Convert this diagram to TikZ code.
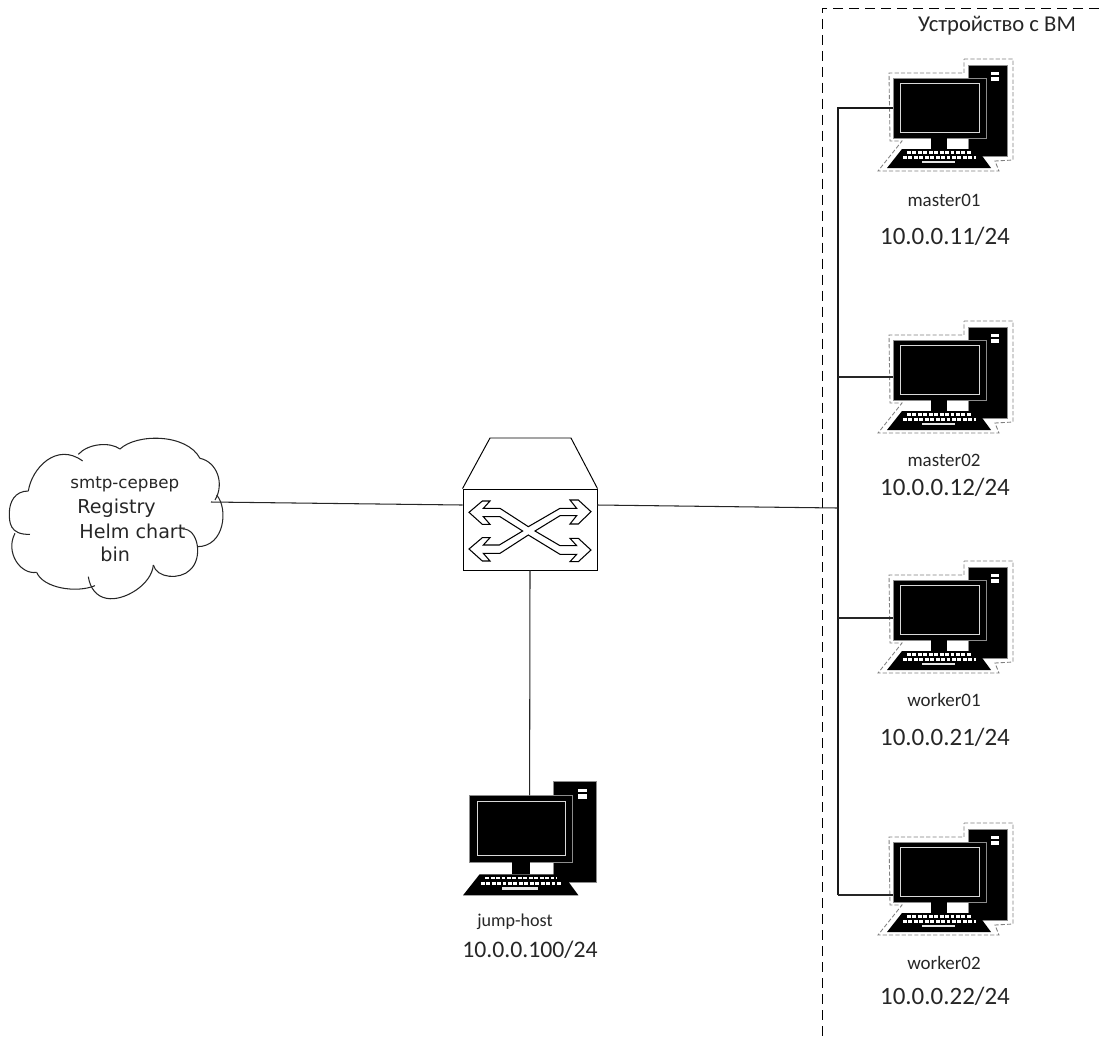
\documentclass[tikz,border=0pt]{standalone}
\usepackage{fontspec}
\setmainfont{Carlito}
\newfontfamily\cloudfont{DejaVu Sans}
\tikzset{
	every node/.style={inner sep=0pt, text=black!85},
	hostname/.style={font=\fontsize{10.8}{12}\selectfont},
	hostaddr/.style={font=\fontsize{14.2}{16}\selectfont},
	cloudtext/.style={font=\cloudfont\fontsize{10.9}{12}\selectfont, anchor=west},
	link/.style={line width=0.6pt, black!85},
	linkbold/.style={line width=1.2pt, black!90},
	pics/computer/.style={code={
		% tower
		\draw [fill=black, draw=black!45, line width=0.4pt] (81,0) rectangle (120,91);
		\fill [white] (104,7) rectangle (112,10);
		\fill [white] (104,12) rectangle (112,16);
		% monitor
		\draw [fill=black, draw=black!45, line width=0.5pt] (6,13) rectangle (99,73);
		\draw [white!85!black, line width=0.5pt] (13,18) rectangle (92,67);
		% stand
		\fill [black] (44,73) rectangle (60,84);
		% keyboard
		\fill [black] (15,84) -- (90,84) -- (104,103) -- (0,103) -- cycle;
		\draw [white, line width=1.4pt, dash pattern=on 2.2pt off 0.9pt] (20,87.5) -- (85,87.5);
		\draw [white, line width=1.4pt, dash pattern=on 2.2pt off 0.9pt] (16,92.5) -- (89,92.5);
		\fill [white!90!black] (35,95.5) rectangle (68,98);
		\coordinate (-port) at (6,43);
		\coordinate (-top) at (60,13);
	}},
	pics/vmborder/.style={code={
		\draw [black!50, line width=0.5pt, dash pattern=on 2.4pt off 1.2pt] (77,-6) -- (126,-6) -- (126,95) -- (108,96) -- (112,106) -- (-9,106) -- (15,76) -- (3,76) -- (2,8) -- (77,8) -- cycle;
	}},
}
\begin{document}
\begin{tikzpicture}[x=0.02cm, y=-0.02cm]
	\useasboundingbox (0,0) rectangle (1099,1039);

	% vm box
	\draw [line width=0.5pt, dash pattern=on 5.7pt off 3.4pt] (1099,8) -- (822,8) -- (822,1039);
	\node (vmtitle) at (997,26) {\fontsize{12.9}{14}\selectfont Устройство с ВМ};

	% hosts
	\pic (master01) at (887,65) {computer};
	\pic at (887,65) {vmborder};
	\pic (master02) at (887,327) {computer};
	\pic at (887,327) {vmborder};
	\pic (worker01) at (887,567) {computer};
	\pic at (887,567) {vmborder};
	\pic (worker02) at (887,829) {computer};
	\pic at (887,829) {vmborder};
	\pic [scale=1.11] (jumphost) at (463,781) {computer};

	\node [hostname] (master01name) at (944,200) {master01};
	\node [hostaddr] (master01addr) at (945,236) {10.0.0.11/24};
	\node [hostname] (master02name) at (944,460) {master02};
	\node [hostaddr] (master02addr) at (945,487) {10.0.0.12/24};
	\node [hostname] (worker01name) at (944,700) {worker01};
	\node [hostaddr] (worker01addr) at (945,737) {10.0.0.21/24};
	\node [hostname] (worker02name) at (944,963) {worker02};
	\node [hostaddr] (worker02addr) at (945,996) {10.0.0.22/24};
	\node [hostname, font=\fontsize{10.3}{12}\selectfont] (jumpname) at (515,922) {jump-host};
	\node [hostaddr, font=\fontsize{13.5}{16}\selectfont] (jumpaddr) at (530,950) {10.0.0.100/24};

	% switch
	\node [draw, line width=0.55pt, minimum width=2.68cm, minimum height=1.62cm] (switch) at (530,529.5) {};
	\draw [line width=0.55pt] (switch.north west) -- (490,438) -- (571,438) -- (switch.north east);
	\begin{scope}[shift={(450,425)}, x=0.00667cm, y=-0.00667cm, line width=0.6pt, line join=miter]
		\draw (235,305) -- (150,250) -- (100,250) -- (120,228) -- (97,228) -- (57,262) -- (97,298) -- (120,298) -- (100,275) -- (150,275) -- (218,318) -- (148,360) -- (100,360) -- (120,338) -- (97,338) -- (57,372) -- (97,408) -- (120,408) -- (100,385) -- (150,385) -- (235,330) -- (330,388) -- (380,388) -- (360,410) -- (385,410) -- (423,375) -- (385,340) -- (360,340) -- (380,362) -- (330,362) -- (255,318) -- (330,272) -- (380,272) -- (360,297) -- (385,297) -- (423,260) -- (385,225) -- (360,225) -- (380,250) -- (330,250) -- cycle;
	\end{scope}

	% cloud
	\begin{scope}[shift={(0,425)}, x=0.00667cm, y=-0.00667cm, line width=0.6pt, black!85]
		\draw (90,328) .. controls (28,330) and (28,290) .. (28,265) .. controls (28,230) and (45,198) .. (85,198);
		\draw (85,198) .. controls (95,130) and (170,50) .. (248,108);
		\draw (235,88) .. controls (265,55) and (330,50) .. (360,72);
		\draw (360,72) .. controls (410,25) and (560,25) .. (600,100);
		\draw (600,100) .. controls (650,110) and (675,175) .. (645,225);
		\draw (650,210) .. controls (685,250) and (675,365) .. (592,365);
		\draw (548,312) .. controls (595,310) and (610,400) .. (570,435) .. controls (540,465) and (470,460) .. (460,420);
		\draw (460,420) .. controls (455,480) and (370,530) .. (320,520) .. controls (290,515) and (270,490) .. (265,455);
		\draw (285,482) .. controls (230,505) and (130,490) .. (110,442);
		\draw (110,442) .. controls (60,450) and (15,380) .. (45,325);
	\end{scope}
	\coordinate (cloudport) at (211,502);
	\node [cloudtext, font=\cloudfont\fontsize{9.5}{11}\selectfont] (smtp) at (70,484) {smtp-сервер};
	\node [cloudtext] (registry) at (77,508) {Registry};
	\node [cloudtext] (helm) at (79,531) {Helm chart};
	\node [cloudtext] (binfiles) at (100,554) {bin};

	% bus
	\coordinate (bustop) at (838,108);
	\coordinate (busbottom) at (838,895);
	\coordinate (busswitch) at (838,508);
	\coordinate (busmaster02) at (838,377);
	\coordinate (busworker01) at (838,618);
	\draw [linkbold] (master01-port) -- (bustop) -- (busbottom);
	\draw [link] (cloudport) -- (switch.west |- 0,505);
	\draw [link] (switch.east |- 0,505) -- (busswitch);
	\draw [link] (busmaster02) -- (busmaster02 -| master02-port);
	\draw [link] (busworker01) -- (busworker01 -| worker01-port);
	\draw [link] (busbottom) -- (busbottom -| worker02-port);
	\draw [link] (switch.south) -- (jumphost-top);
\end{tikzpicture}
\end{document}
